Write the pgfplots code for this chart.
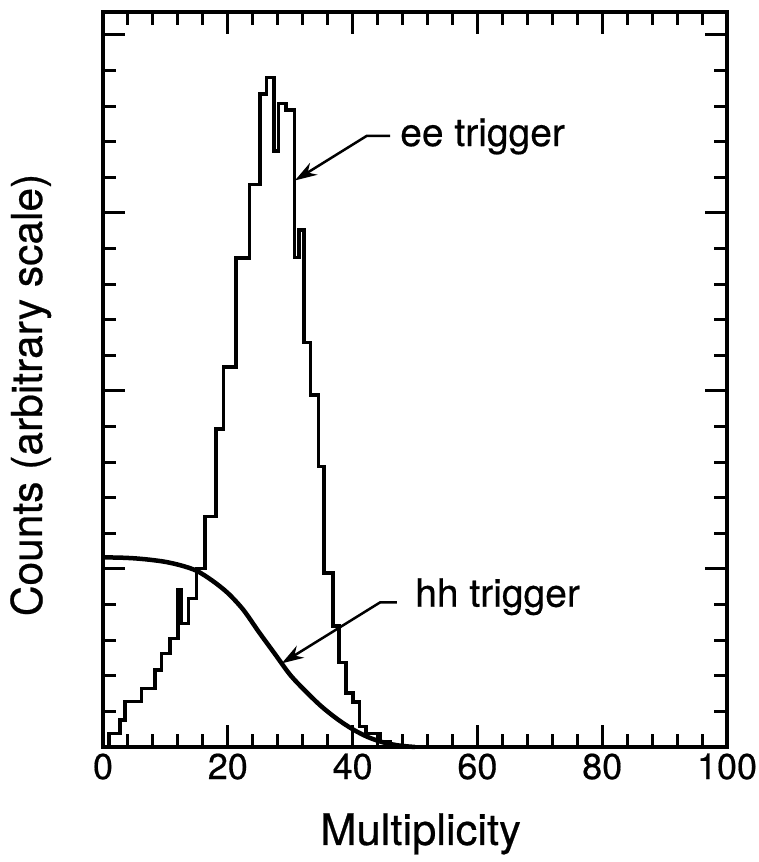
\documentclass[border=0pt]{standalone}
\usepackage{fontspec}
\setmainfont{TeX Gyre Heros}[FakeBold=0.5]
\usepackage{pgfplots}
\pgfplotsset{compat=1.18}
\usetikzlibrary{arrows.meta}
\begin{document}
\begin{tikzpicture}
\useasboundingbox (-103pt,-115pt) rectangle (655pt,747pt);
\begin{axis}[
  at={(0pt,0pt)}, anchor=south west,
  scale only axis, width=624pt, height=735pt,
  xmin=0, xmax=100, ymin=0, ymax=4.129,
  xtick={0,20,...,100}, minor x tick num=4,
  ytick={0,1,2,3,4}, minor y tick num=4, yticklabels={},
  tick align=inside, tick pos=both,
  major tick length=22pt, minor tick length=13pt,
  axis line style={line width=3.5pt},
  tick style={line width=3pt, black},
  /pgf/number format/assume math mode=true,
  xticklabel style={font=\fontsize{36}{40}\selectfont, yshift=-3pt},
  xlabel={Multiplicity},
  ylabel={Counts (arbitrary scale)},
  xlabel style={font=\fontsize{43.5}{48}\selectfont, at={(axis description cs:0.509,-0.1333)}, anchor=base},
  ylabel style={font=\fontsize{42.5}{48}\selectfont, at={(axis description cs:-0.0978,0.479)}, anchor=base, rotate=0},
  clip=false,
]
% ee trigger histogram (bin left edge, height)
\addplot[const plot, line width=3.5pt, black, line join=miter] coordinates {
(1.0,0) (1.0,0.077) (2.7,0.152) (3.5,0.255) (6.2,0.330) (8.3,0.433) (9.4,0.526)
(10.7,0.610) (12.0,0.886) (12.6,0.695) (13.7,0.835) (15.0,1.004) (16.35,1.294)
(18.1,1.787) (19.3,2.135) (21.3,2.746) (23.45,3.161) (25.16,3.667) (26.23,3.762)
(27.40,3.348) (28.09,3.616) (29.33,3.579) (30.66,2.749) (31.41,2.904) (32.21,2.271)
(33.29,1.978) (34.5,1.575) (35.4,0.978) (36.86,0.680) (37.8,0.475) (38.94,0.303)
(40.06,0.253) (41.07,0.114) (42.15,0.077) (44.39,0.03) (46.0,0)
};
% hh trigger curve
\addplot[smooth, line width=4.5pt, black] coordinates {
(0,1.065) (2.5,1.064) (5,1.060) (7.5,1.052) (10,1.040) (12.5,1.020) (15,0.990)
(17.5,0.935) (20,0.865) (22.5,0.770) (25,0.645) (27.5,0.525) (30,0.405)
(32.5,0.312) (35,0.228) (37.5,0.158) (40,0.100) (42.5,0.055) (45,0.025)
(47.5,0.008) (50,0.0)
};
% annotations
\draw[line width=2.5pt, -{Stealth[length=22pt,width=14pt]}] (axis cs:46.0,3.433) -- (axis cs:42.26,3.433) -- (axis cs:30.77,3.183);
\draw[line width=2.5pt, -{Stealth[length=22pt,width=14pt]}] (axis cs:47.1,0.812) -- (axis cs:44.39,0.812) -- (axis cs:28.64,0.470);
\node[anchor=base west, inner sep=0pt, font=\fontsize{39}{44}\selectfont] at (axis cs:47.6,3.376) {ee trigger};
\node[anchor=base west, inner sep=0pt, font=\fontsize{39}{44}\selectfont] at (axis cs:50.0,0.788) {hh trigger};
\end{axis}
\end{tikzpicture}
\end{document}
